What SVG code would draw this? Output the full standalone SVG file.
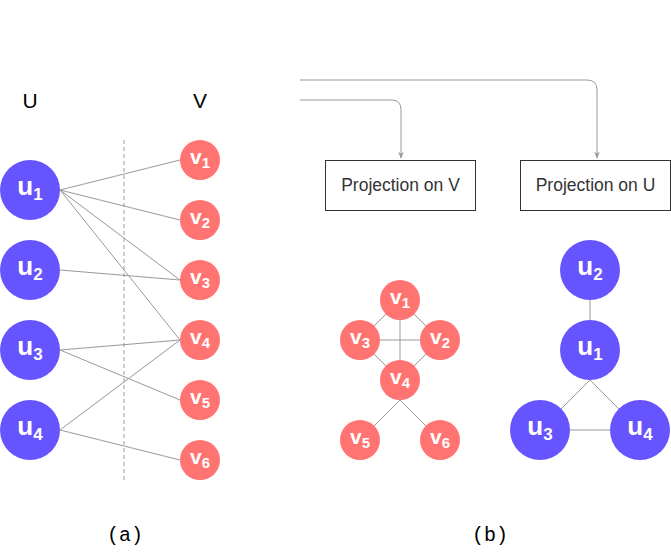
<svg xmlns="http://www.w3.org/2000/svg" width="671" height="552" viewBox="0 0 671 552">
<defs>
<style>
.u{fill:#6655FF;}
.v{fill:#FF7370;}
.e{stroke:#999;stroke-width:1;fill:none;}
.lu{font-family:"Liberation Sans",Arial,sans-serif;font-weight:bold;font-size:26px;fill:#fff;}
.lv{font-family:"Liberation Sans",Arial,sans-serif;font-weight:bold;font-size:21px;fill:#fff;}
.sub{font-size:17px;}
.sv{font-size:15px;}
.box{fill:#fff;stroke:#333;stroke-width:1;}
.bt{font-family:"Liberation Sans",Arial,sans-serif;font-size:17.5px;fill:#333;}
.hd{font-family:"Liberation Sans",Arial,sans-serif;font-size:21px;fill:#000;}
.cap{font-family:"Liberation Mono","Courier New",monospace;font-size:20px;fill:#000;}
</style>
<marker id="ah" viewBox="0 0 10 10" refX="9" refY="5" markerWidth="7" markerHeight="7" orient="auto">
<path d="M0,1 L10,5 L0,9 L3,5 Z" fill="#999"/>
</marker>
</defs>
<rect width="671" height="552" fill="#fff"/>
<text class="hd" x="30" y="108" text-anchor="middle">U</text>
<text class="hd" x="200" y="108" text-anchor="middle">V</text>
<line x1="124" y1="140" x2="124" y2="480" stroke="#999" stroke-dasharray="4,3"/>
<g id="connectors">
<line class="e" x1="60" y1="190" x2="180" y2="160"/>
<line class="e" x1="60" y1="190" x2="180" y2="220"/>
<line class="e" x1="60" y1="190" x2="180" y2="280"/>
<line class="e" x1="60" y1="190" x2="180" y2="340"/>
<line class="e" x1="60" y1="270" x2="180" y2="280"/>
<line class="e" x1="60" y1="350" x2="180" y2="340"/>
<line class="e" x1="60" y1="350" x2="180" y2="400"/>
<line class="e" x1="60" y1="430" x2="180" y2="340"/>
<line class="e" x1="60" y1="430" x2="180" y2="460"/>
<path class="e" d="M300,80 H587 Q597,80 597,90 V158" marker-end="url(#ah)"/>
<path class="e" d="M300,100 H392 Q401,100 401,110 V158" marker-end="url(#ah)"/>
<line class="e" x1="400" y1="300" x2="360" y2="340"/>
<line class="e" x1="400" y1="300" x2="440" y2="340"/>
<line class="e" x1="400" y1="300" x2="400" y2="380"/>
<line class="e" x1="360" y1="340" x2="440" y2="340"/>
<line class="e" x1="360" y1="340" x2="400" y2="380"/>
<line class="e" x1="440" y1="340" x2="400" y2="380"/>
<line class="e" x1="400" y1="400" x2="360" y2="440"/>
<line class="e" x1="400" y1="400" x2="440" y2="440"/>
<line class="e" x1="590" y1="300" x2="590" y2="320"/>
<line class="e" x1="590" y1="380" x2="540" y2="430"/>
<line class="e" x1="590" y1="380" x2="640" y2="430"/>
<line class="e" x1="570" y1="430" x2="610" y2="430"/>
</g>
<g id="a_u1"><circle class="u" cx="30" cy="190" r="30"/><text class="lu" x="30" y="195" text-anchor="middle">u<tspan class="sub" dy="5">1</tspan></text></g>
<g id="a_u2"><circle class="u" cx="30" cy="270" r="30"/><text class="lu" x="30" y="275" text-anchor="middle">u<tspan class="sub" dy="5">2</tspan></text></g>
<g id="a_u3"><circle class="u" cx="30" cy="350" r="30"/><text class="lu" x="30" y="355" text-anchor="middle">u<tspan class="sub" dy="5">3</tspan></text></g>
<g id="a_u4"><circle class="u" cx="30" cy="430" r="30"/><text class="lu" x="30" y="435" text-anchor="middle">u<tspan class="sub" dy="5">4</tspan></text></g>
<g id="a_v1"><circle class="v" cx="200" cy="160" r="20"/><text class="lv" x="200" y="164" text-anchor="middle">v<tspan class="sv" dy="4">1</tspan></text></g>
<g id="a_v2"><circle class="v" cx="200" cy="220" r="20"/><text class="lv" x="200" y="224" text-anchor="middle">v<tspan class="sv" dy="4">2</tspan></text></g>
<g id="a_v3"><circle class="v" cx="200" cy="280" r="20"/><text class="lv" x="200" y="284" text-anchor="middle">v<tspan class="sv" dy="4">3</tspan></text></g>
<g id="a_v4"><circle class="v" cx="200" cy="340" r="20"/><text class="lv" x="200" y="344" text-anchor="middle">v<tspan class="sv" dy="4">4</tspan></text></g>
<g id="a_v5"><circle class="v" cx="200" cy="400" r="20"/><text class="lv" x="200" y="404" text-anchor="middle">v<tspan class="sv" dy="4">5</tspan></text></g>
<g id="a_v6"><circle class="v" cx="200" cy="460" r="20"/><text class="lv" x="200" y="464" text-anchor="middle">v<tspan class="sv" dy="4">6</tspan></text></g>
<g id="projV"><rect class="box" x="325.5" y="160.5" width="150" height="50"/><text class="bt" x="400.5" y="191" text-anchor="middle">Projection on V</text></g>
<g id="projU"><rect class="box" x="520.5" y="160.5" width="150" height="50"/><text class="bt" x="595.5" y="191" text-anchor="middle">Projection on U</text></g>
<g id="b_v1"><circle class="v" cx="400" cy="300" r="20"/><text class="lv" x="400" y="304" text-anchor="middle">v<tspan class="sv" dy="4">1</tspan></text></g>
<g id="b_v2"><circle class="v" cx="440" cy="340" r="20"/><text class="lv" x="440" y="344" text-anchor="middle">v<tspan class="sv" dy="4">2</tspan></text></g>
<g id="b_v3"><circle class="v" cx="360" cy="340" r="20"/><text class="lv" x="360" y="344" text-anchor="middle">v<tspan class="sv" dy="4">3</tspan></text></g>
<g id="b_v4"><circle class="v" cx="400" cy="380" r="20"/><text class="lv" x="400" y="384" text-anchor="middle">v<tspan class="sv" dy="4">4</tspan></text></g>
<g id="b_v5"><circle class="v" cx="360" cy="440" r="20"/><text class="lv" x="360" y="444" text-anchor="middle">v<tspan class="sv" dy="4">5</tspan></text></g>
<g id="b_v6"><circle class="v" cx="440" cy="440" r="20"/><text class="lv" x="440" y="444" text-anchor="middle">v<tspan class="sv" dy="4">6</tspan></text></g>
<g id="b_u2"><circle class="u" cx="590" cy="270" r="30"/><text class="lu" x="590" y="275" text-anchor="middle">u<tspan class="sub" dy="5">2</tspan></text></g>
<g id="b_u1"><circle class="u" cx="590" cy="350" r="30"/><text class="lu" x="590" y="355" text-anchor="middle">u<tspan class="sub" dy="5">1</tspan></text></g>
<g id="b_u3"><circle class="u" cx="540" cy="430" r="30"/><text class="lu" x="540" y="435" text-anchor="middle">u<tspan class="sub" dy="5">3</tspan></text></g>
<g id="b_u4"><circle class="u" cx="640" cy="430" r="30"/><text class="lu" x="640" y="435" text-anchor="middle">u<tspan class="sub" dy="5">4</tspan></text></g>
<text class="cap" x="125" y="541" text-anchor="middle">(a)</text>
<text class="cap" x="490" y="541" text-anchor="middle">(b)</text>
</svg>
